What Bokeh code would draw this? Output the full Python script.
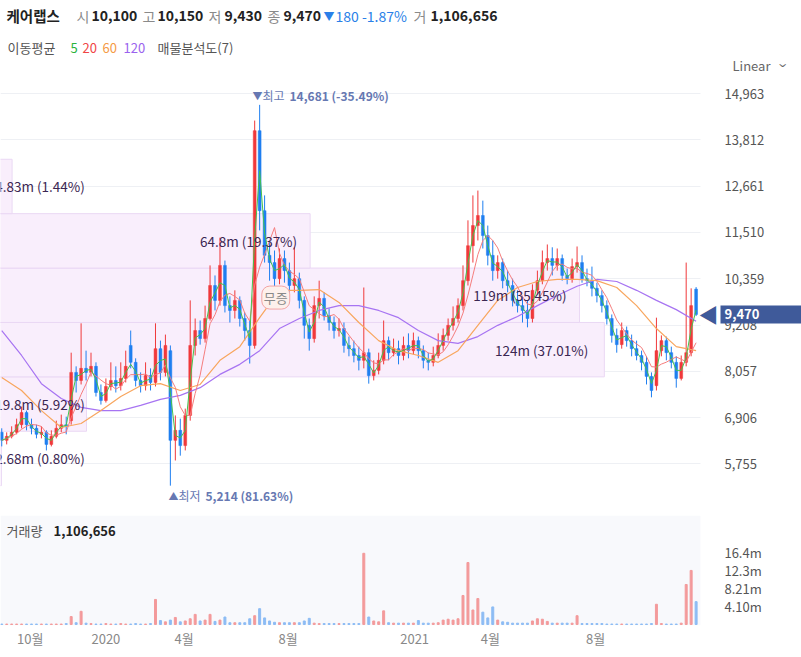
import numpy as np
import pandas as pd
from bokeh.plotting import figure
from bokeh.models import (Range1d, FixedTicker, Label, ColumnDataSource, NumeralTickFormatter,
                          LinearAxis, Grid, BoxAnnotation)
from bokeh.layouts import column
from bokeh.core.properties import value
from bokeh.embed import file_html
from bokeh.resources import INLINE

# ---------------- data ----------------
opens = [6540, 6340, 6440, 6540, 6730, 7030, 6730, 6640, 6490, 6540,
         6240, 6440, 6640, 6730, 6830, 8030, 7830, 8130, 8030, 8180,
         7530, 7330, 7680, 7830, 7700, 7880, 8700, 8280, 7830, 7700,
         7950, 7780, 8620, 8030, 8570, 6340, 6590, 6210, 6960, 8700,
         9070, 8870, 9370, 10190, 9820, 10690, 9690, 9570, 9820, 9370,
         9070, 8700, 14040, 12050, 10940, 10760, 10360, 10860, 10560, 10190,
         10360, 9820, 9200, 8870, 9690, 9870, 9440, 9270, 9070, 9120,
         8700, 8620, 8450, 8330, 8520, 7950, 8080, 8330, 8820, 8520,
         8620, 8450, 8700, 8570, 8820, 8570, 8330, 8280, 8450, 8700,
         8950, 9200, 9370, 9690, 10310, 11180, 11680, 11930, 11430, 10940,
         10560, 10760, 10310, 10190, 9820, 9690, 9570, 9370, 10070, 10310,
         10760, 10860, 10690, 10860, 10440, 10360, 10660, 10760, 10360, 10310,
         10120, 9940, 9690, 9370, 8950, 8720, 9070, 8820, 8620, 8450,
         8280, 7930, 7700, 8570, 8820, 8520, 8280, 7880, 8280, 8520,
         10100]
highs = [6640, 6540, 6690, 6880, 7180, 7080, 6880, 6730, 6690, 6590,
         6590, 6830, 6980, 6930, 8520, 8180, 9250, 8570, 8520, 8280,
         7730, 7880, 8280, 8180, 8280, 8570, 9070, 8380, 8030, 8280,
         8130, 9250, 8820, 8970, 8700, 6960, 6880, 7130, 9820, 9370,
         9320, 9690, 10690, 10440, 11380, 10810, 9920, 10070, 9920, 9520,
         9320, 14290, 14681, 12430, 11310, 11060, 11110, 11060, 10760, 11140,
         10510, 9920, 9370, 9920, 10310, 10020, 9620, 9420, 9370, 9270,
         8920, 8820, 8670, 10140, 8620, 8330, 8520, 9320, 8920, 8870,
         8820, 8920, 9000, 9020, 8920, 8700, 8520, 8670, 9000, 9120,
         9370, 9670, 9870, 10690, 11810, 12430, 12550, 12300, 11680, 11310,
         10940, 10860, 10560, 10360, 10070, 9920, 9820, 10220, 10560, 11060,
         11210, 11140, 11110, 10960, 10610, 10860, 11160, 10940, 10610, 10660,
         10260, 10070, 9820, 9470, 9120, 9270, 9170, 8970, 8820, 8570,
         8430, 8030, 9390, 8950, 8920, 8670, 8430, 8450, 10760, 10120,
         10150]
lows = [6190, 6240, 6390, 6490, 6640, 6590, 6490, 6390, 6390, 6090,
        6190, 6390, 6540, 6490, 6730, 7530, 7730, 7830, 7930, 7430,
        7230, 7280, 7580, 7530, 7580, 7780, 8130, 7680, 7530, 7580,
        7580, 7680, 7830, 7930, 5214, 5840, 5960, 6090, 6830, 8450,
        8720, 8770, 9320, 9570, 9690, 9520, 9270, 9370, 9170, 8820,
        8250, 8620, 11560, 10760, 10310, 10070, 10220, 10260, 10020, 10020,
        9620, 8870, 8570, 8770, 9370, 9320, 9070, 8870, 8920, 8520,
        8430, 8280, 8080, 8130, 7750, 7830, 7980, 8230, 8330, 8430,
        8230, 8330, 8380, 8480, 8380, 8130, 8080, 8180, 8380, 8570,
        8820, 9070, 9270, 9570, 10190, 10760, 11310, 11110, 10690, 10310,
        10360, 10120, 10020, 9670, 9520, 9270, 9150, 9270, 9970, 10220,
        10560, 10440, 10560, 10310, 10220, 10260, 10510, 10260, 10170, 9920,
        9770, 9520, 9220, 8770, 8520, 8620, 8670, 8430, 8330, 8080,
        7730, 7410, 7580, 8430, 8330, 8130, 7650, 7830, 8180, 8430,
        9430]
closes = [6340, 6440, 6540, 6730, 7030, 6730, 6640, 6490, 6540, 6240,
          6440, 6640, 6730, 6690, 8030, 7830, 8130, 8030, 8180, 7530,
          7330, 7680, 7830, 7700, 7880, 8180, 8280, 7830, 7700, 7950,
          7780, 8620, 8030, 8700, 6340, 6590, 6210, 6960, 8700, 9070,
          8870, 9370, 10190, 9820, 10690, 9690, 9570, 9820, 9370, 9070,
          8700, 14040, 12050, 10940, 10760, 10360, 10860, 10560, 10190, 10360,
          9820, 9200, 8870, 9690, 9870, 9440, 9270, 9070, 9120, 8700,
          8620, 8450, 8330, 8520, 7950, 8080, 8330, 8820, 8520, 8620,
          8450, 8700, 8570, 8820, 8570, 8330, 8280, 8450, 8700, 8950,
          9200, 9370, 9690, 10310, 11180, 11680, 11930, 11430, 10940, 10560,
          10760, 10310, 10190, 9820, 9690, 9570, 9370, 10070, 10310, 10760,
          10860, 10690, 10860, 10440, 10360, 10660, 10760, 10360, 10310, 10120,
          9940, 9690, 9370, 8950, 8720, 9070, 8820, 8620, 8450, 8280,
          7930, 7580, 8570, 8820, 8520, 8280, 7880, 8280, 8520, 9690,
          9470]
volumes_m = [0.1, 0.1, 0.1, 0.1, 0.1, 0.1, 0.1, 0.1, 0.1, 0.1,
             0.1, 0.1, 0.1, 0.2, 1.8, 0.4, 3.0, 0.3, 0.2, 0.1,
             0.1, 0.2, 0.1, 0.1, 0.2, 0.1, 0.1, 0.2, 0.1, 0.1,
             0.2, 5.7, 0.9, 0.6, 1.0, 1.6, 0.6, 0.8, 1.3, 2.3,
             0.8, 1.0, 2.3, 0.7, 1.0, 1.7, 0.4, 0.4, 0.4, 0.4,
             1.3, 2.0, 3.6, 1.5, 0.8, 0.5, 0.4, 0.4, 0.4, 0.4,
             0.4, 0.8, 1.4, 0.3, 0.2, 0.2, 0.2, 0.2, 0.2, 0.2,
             0.2, 0.2, 0.2, 16.2, 1.7, 0.8, 0.6, 3.1, 0.4, 0.3,
             0.3, 0.3, 0.3, 0.3, 0.9, 0.3, 0.3, 0.3, 0.4, 1.0,
             1.2, 1.0, 1.3, 6.6, 14.1, 3.3, 5.9, 2.8, 1.5, 4.0,
             1.0, 0.6, 0.5, 0.3, 0.3, 0.3, 0.3, 0.8, 1.3, 1.2,
             0.7, 0.3, 0.3, 0.3, 0.3, 0.3, 2.0, 0.2, 0.2, 0.2,
             0.2, 0.2, 0.1, 0.1, 0.1, 0.1, 0.1, 0.1, 0.1, 0.1,
             0.1, 0.2, 4.6, 0.2, 0.1, 0.1, 0.1, 0.3, 9.1, 12.3, 5.2]
# long moving averages, read every 4th candle
ma60_read = [7900, 7580, 7080, 6660, 6760, 7080, 7430, 7700, 7750, 7580,
             7730, 8330, 8670, 9390, 10070, 10070, 10090, 9770, 9270, 8820,
             8570, 8450, 8280, 8570, 9200, 9820, 10140, 10290, 10340, 10340,
             10310, 10140, 9690, 9120, 8670, 8570]
ma120_read = [9070, 8450, 7750, 7380, 7160, 7080, 7080, 7210, 7360, 7460,
              7650, 7980, 8230, 8570, 9120, 9370, 9570, 9690, 9690, 9570,
              9390, 9070, 8820, 8750, 8920, 9200, 9420, 9690, 9940, 10170,
              10340, 10290, 10070, 9820, 9590, 9300]
# volume profile (매물분석도, 7 bands, bottom -> top)
profile_vol_m = [2.68, 19.8, 124, 119, 64.8, 4.83, 0.02]
profile_labels = ["2.68m (0.80%)", "19.8m (5.92%)", "124m  (37.01%)", "119m (35.45%)",
                  "64.8m (19.37%)", "4.83m (1.44%)", ""]
price_ticks = [5755, 6906, 8057, 9208, 10359, 11510, 12661, 13812, 14963]
vol_ticks = [4.10, 8.21, 12.3, 16.4]
vol_tick_labels = ["4.10m", "8.21m", "12.3m", "16.4m"]
month_tick_days = [24, 85, 148, 232, 334, 395, 480]
month_tick_labels = ["10월", "2020", "4월", "8월", "2021", "4월", "8월"]
event_day, event_price, event_text = 222, 9890, "무증"
last_price_text = "9,470"

FONT = "Noto Sans CJK KR"
UP, DOWN = "#f0393b", "#1f7ff0"
AXIS_X = 564.5          # trading-day position where the price scale starts (plot edge)

days = [1 + 4 * k for k in range(len(closes))]
df = pd.DataFrame(dict(day=days, o=opens, h=highs, l=lows, c=closes, v=volumes_m))
df["up"] = df.c >= df.o
df["color"] = np.where(df.up, UP, DOWN)
df["vcolor"] = np.where(df.up, "#f39a9b", "#8dbcf4")
df["top"] = df[["o", "c"]].max(axis=1)
df["bot"] = df[["o", "c"]].min(axis=1)
df["ma5"] = df.c.rolling(2, min_periods=1).mean()
df["ma20"] = df.c.rolling(5, min_periods=1).mean()
src = ColumnDataSource(df)
ma_days = days[::4]

xr = Range1d(0, 646.0)

# ---------------- main price figure (frame = whole canvas) ----------------
p = figure(width=801, height=512, x_range=xr, y_range=Range1d(4547, 17275),
           output_backend="svg", toolbar_location=None, min_border=0,
           x_axis_location=None, y_axis_location=None)
p.outline_line_color = None
p.grid.visible = False

g = Grid(dimension=1, ticker=FixedTicker(ticks=price_ticks), grid_line_color="#eef0f4")
if "cross_bounds" in Grid.properties():
    g.cross_bounds = (0, AXIS_X)
    p.add_layout(g, "center")
else:
    p.segment(x0=0, x1=AXIS_X, y0=price_ticks, y1=price_ticks, line_color="#eef0f4")

yax = LinearAxis(fixed_location=AXIS_X, ticker=FixedTicker(ticks=price_ticks),
                 formatter=NumeralTickFormatter(format="0,0"))
yax.axis_line_color = None
yax.major_tick_line_color = None
yax.minor_tick_line_color = None
yax.major_label_text_font_size = "13px"
yax.major_label_text_color = "#555555"
yax.major_label_text_font = FONT
yax.major_label_standoff = 18
p.add_layout(yax, "right")

# volume profile bands
edges = np.linspace(min(lows), max(highs), len(profile_vol_m) + 1)
prof_left = -10.0
prof_scale = 497.0 / max(profile_vol_m)
rights = [prof_left + v * prof_scale for v in profile_vol_m]
p.quad(left=prof_left, right=rights, bottom=edges[:-1], top=edges[1:],
       fill_color="#f9eefc", line_color="#ead8f4", line_width=1)

# candles
p.segment(x0="day", x1="day", y0="l", y1="h", color="color", line_width=1, source=src)
p.vbar(x="day", width=2.3, top="top", bottom="bot", fill_color="color", line_color="color",
       line_width=0.5, source=src)

# moving averages
p.line(ma_days, ma120_read, color="#a774f2", line_width=1.2)
p.line(ma_days, ma60_read, color="#f8a65e", line_width=1.2)
p.line("day", "ma20", color="#f57d7d", line_width=1.0, source=src)
p.line("day", "ma5", color="#44c24e", line_width=1.0, source=src)

# profile labels
lab_x, lab_y, lab_t = [], [], []
for i, t in enumerate(profile_labels):
    if t:
        lab_x.append(max(rights[i] - 10.5, 68.0))
        lab_y.append((edges[i] + edges[i + 1]) / 2)
        lab_t.append(t)
p.text(x=lab_x, y=lab_y, text=lab_t, text_align="right", text_baseline="middle",
       text_font_size="13.5px", text_color="#3b2652", text_font=value(FONT))

# event marker
p.add_layout(Label(x=event_day, y=event_price, text=event_text, text_align="center",
                   text_baseline="middle", text_font_size="13px", text_color="#888888",
                   text_font=FONT, background_fill_color="#fdf0ec", border_line_color="#f2a5a5",
                   border_radius=8, padding=2))


def slab(fig, x, y, text, color="#222222", size="14px", bold=False, align="left", angle=0.0):
    fig.add_layout(Label(x=x, y=y, x_units="screen", y_units="screen", text=text,
                         text_color=color, text_font_size=size,
                         text_font_style="bold" if bold else "normal", text_align=align,
                         text_baseline="middle", text_font=FONT, angle=angle))


# header line 1 (screen units from the frame's lower-left corner)
H1 = 497
slab(p, 6, H1, "케어랩스", bold=True, size="14.5px")
slab(p, 76, H1, "시", color="#8a8a8a")
slab(p, 91, H1, "10,100", bold=True)
slab(p, 142, H1, "고", color="#8a8a8a")
slab(p, 157, H1, "10,150", bold=True)
slab(p, 208, H1, "저", color="#8a8a8a")
slab(p, 224, H1, "9,430", bold=True)
slab(p, 267, H1, "종", color="#8a8a8a")
slab(p, 283, H1, "9,470", bold=True)
slab(p, 323, H1, "▼", color="#2a7fe8", size="11px")
slab(p, 335, H1, "180 -1.87%", color="#2a7fe8")
slab(p, 413, H1, "거", color="#8a8a8a")
slab(p, 430, H1, "1,106,656", bold=True)
# header line 2
H2 = 465
slab(p, 7, H2, "이동평균", color="#555555", size="13px")
slab(p, 70, H2, "5", color="#2bb33c", size="13px")
slab(p, 82, H2, "20", color="#f04545", size="13px")
slab(p, 102, H2, "60", color="#f59a45", size="13px")
slab(p, 123, H2, "120", color="#9a62ee", size="13px")
slab(p, 157, H2, "매물분석도(7)", color="#555555", size="13px")
# scale selector
slab(p, 732, 447, "Linear", color="#666666", size="13px")
slab(p, 784, 447, "›", color="#666666", size="16px", align="center", angle=-np.pi / 2)
# extremes
slab(p, 252, 417, "▼", color="#6678b2", size="10px")
slab(p, 262, 417, "최고", color="#6678b2", size="12px")
slab(p, 289, 417, "14,681 (-35.49%)", color="#6678b2", size="12px", bold=True)
slab(p, 168, 17, "▲", color="#6678b2", size="10px")
slab(p, 178, 17, "최저", color="#6678b2", size="12px")
slab(p, 205, 17, "5,214 (81.63%)", color="#6678b2", size="12px", bold=True)
# last price tag (at the last close)
p.add_layout(Label(x=718, y=closes[-1], x_units="screen", text="◀", text_color="#3f5a9a",
                   text_font_size="20px", text_align="right", text_baseline="middle",
                   text_font=FONT))
p.add_layout(Label(x=720, y=closes[-1], x_units="screen", text=last_price_text, text_color="white",
                   text_font_size="13px", text_font_style="bold", text_align="left",
                   text_baseline="middle", text_font=FONT, background_fill_color="#3f5a9a",
                   padding=dict(left=4, right=60, top=4, bottom=4)))

# ---------------- volume figure ----------------
pv = figure(width=801, height=145, x_range=xr, y_range=Range1d(-0.23, 24.8),
            output_backend="svg", toolbar_location=None, min_border_left=0, min_border_right=0,
            min_border_top=3, min_border_bottom=32, y_axis_location=None)
pv.outline_line_color = None
pv.grid.visible = False
pv.add_layout(BoxAnnotation(left=0, right=AXIS_X, fill_color="#f8f9fc", fill_alpha=1.0,
                            line_color=None, level="underlay"))
pv.vbar(x="day", width=1.6, top="v", bottom=0, fill_color="vcolor", line_color="vcolor", source=src)
vy = LinearAxis(fixed_location=AXIS_X, ticker=FixedTicker(ticks=vol_ticks))
vy.major_label_overrides = {t: s for t, s in zip(vol_ticks, vol_tick_labels)}
vy.axis_line_color = None
vy.major_tick_line_color = None
vy.minor_tick_line_color = None
vy.major_label_text_font_size = "13px"
vy.major_label_text_color = "#555555"
vy.major_label_text_font = FONT
vy.major_label_standoff = 18
pv.add_layout(vy, "right")
vx = pv.xaxis[0]
vx.ticker = FixedTicker(ticks=month_tick_days)
vx.major_label_overrides = {t: s for t, s in zip(month_tick_days, month_tick_labels)}
vx.axis_line_color = None
vx.major_tick_line_color = None
vx.minor_tick_line_color = None
vx.major_tick_out = 0
vx.major_label_text_font_size = "13px"
vx.major_label_text_color = "#888888"
vx.major_label_text_font = FONT
vx.major_label_standoff = 3
slab(pv, 6, 95, "거래량", color="#555555", size="13px")
slab(pv, 53, 95, "1,106,656", bold=True, size="13px")

layout = column(p, pv, spacing=0)
open("out.html", "w").write(file_html(layout, INLINE))
